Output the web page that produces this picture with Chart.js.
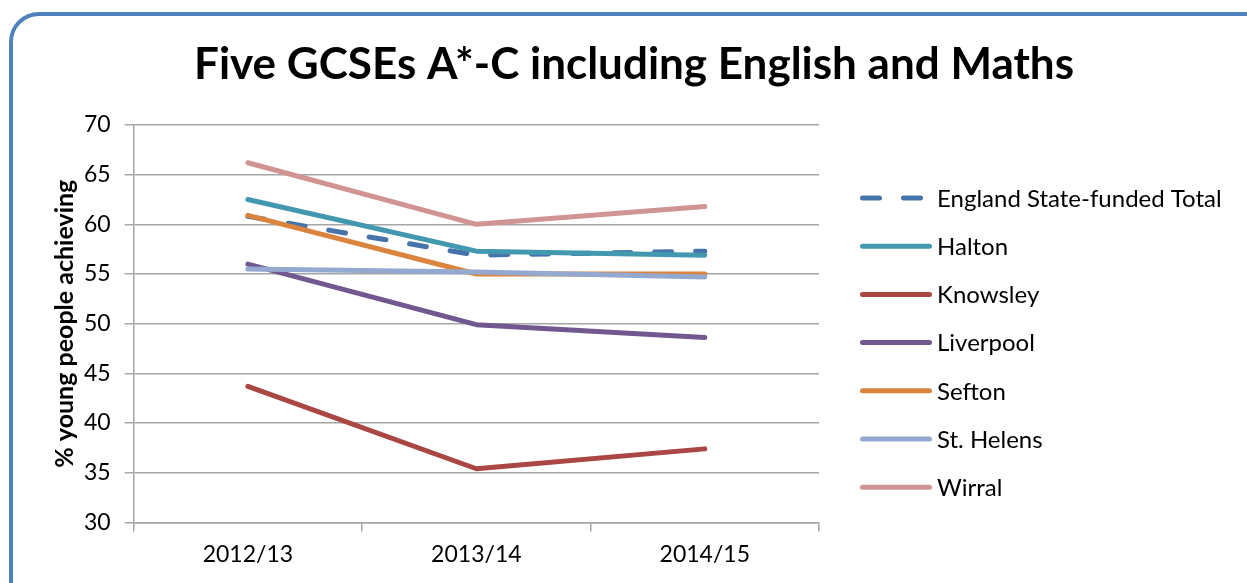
<!DOCTYPE html>
<html>
<head>
<meta charset="utf-8">
<script src="https://cdn.jsdelivr.net/npm/chart.js@4"></script>
<style>
    html, body { margin: 0; padding: 0; background: #fff; overflow: hidden; }
    #wrap { position: relative; width: 1247px; height: 583px; }
    #frame {
        position: absolute; left: 9px; top: 12px; width: 1260px; height: 600px;
        border: 4px solid #4f81bd; border-radius: 30px; pointer-events: none;
    }
    canvas { position: absolute; left: 0; top: 0; }
</style>
</head>
<body>
<div id="wrap">
    <canvas id="chart" width="1247" height="583"></canvas>
    <div id="frame"></div>
</div>
<script>
// Categories (school years)
const years = ['2012/13', '2013/14', '2014/15'];

// % young people achieving five GCSEs A*-C incl. English and Maths
const england = [60.8, 56.9, 57.3];
const halton = [62.5, 57.3, 56.9];
const knowsley = [43.7, 35.4, 37.4];
const liverpool = [56.0, 49.9, 48.6];
const sefton = [60.9, 55.0, 55.0];
const stHelens = [55.5, 55.2, 54.7];
const wirral = [66.2, 60.0, 61.8];

const yTicks = [30, 35, 40, 45, 50, 55, 60, 65, 70];

const chartTitle = 'Five GCSEs A*-C including English and Maths';

const FONT = 'Lato, "Open Sans", sans-serif';

function series(label, data, color, idx, dash) {
    return {
        label,
        data,
        borderColor: color,
        backgroundColor: color,
        borderWidth: 5,
        borderDash: dash || [],
        borderCapStyle: 'round',
        borderJoinStyle: 'round',
        tension: 0,
        pointRadius: 0,
        fill: false,
        order: 10 - idx // later series drawn on top
    };
}

// Title + legend drawn by hand: the built-in ones get squeezed by the layout
const sideLegend = {
    id: 'sideLegend',
    afterDraw(chart) {
        const { ctx, chartArea } = chart;
        ctx.save();

        // title, centred on the whole frame
        ctx.font = 'bold 44px ' + FONT;
        ctx.textAlign = 'center';
        ctx.textBaseline = 'middle';
        ctx.fillStyle = '#000';
        ctx.fillText(chartTitle, 634, 65);

        const x0 = chartArea.right + 41;
        const lineLen = 72;
        const rowH = 48.2;
        const top = chartArea.top + 73;
        ctx.font = '24px ' + FONT;
        ctx.textAlign = 'left';
        chart.data.datasets.forEach((ds, i) => {
            const y = top + i * rowH;
            ctx.beginPath();
            ctx.strokeStyle = ds.borderColor;
            ctx.lineWidth = ds.borderWidth;
            ctx.lineCap = 'round';
            ctx.setLineDash(ds.borderDash || []);
            ctx.moveTo(x0 + 2.5, y);
            ctx.lineTo(x0 + lineLen - 2.5, y);
            ctx.stroke();
            ctx.setLineDash([]);
            ctx.fillText(ds.label, x0 + lineLen + 5, y + 1);
        });
        ctx.restore();
    }
};

const config = {
    type: 'line',
    data: {
        labels: years,
        datasets: [
            series('England State-funded Total', england, '#4673ac', 0, [17, 24]),
            series('Halton', halton, '#4198af', 1),
            series('Knowsley', knowsley, '#aa4643', 2),
            series('Liverpool', liverpool, '#71588f', 3),
            series('Sefton', sefton, '#db843d', 4),
            series('St. Helens', stHelens, '#93a9cf', 5),
            series('Wirral', wirral, '#d09493', 6)
        ]
    },
    options: {
        responsive: false,
        animation: false,
        layout: {
            padding: { left: 50, right: 428, top: 125, bottom: 6 }
        },
        plugins: {
            title: { display: false },
            legend: { display: false },
            tooltip: { enabled: false }
        },
        scales: {
            x: {
                offset: true,
                grid: {
                    offset: true,
                    drawOnChartArea: false,
                    color: '#a6a6a6',
                    tickLength: 9,
                    lineWidth: 1.5
                },
                border: { color: '#a6a6a6', width: 1.5 },
                ticks: {
                    color: '#000',
                    font: { family: FONT, size: 23 },
                    padding: 9,
                    maxRotation: 0
                }
            },
            y: {
                min: 30,
                max: 70,
                afterBuildTicks: (axis) => {
                    axis.ticks = yTicks.map(v => ({ value: v }));
                },
                grid: {
                    color: '#a6a6a6',
                    tickLength: 9,
                    lineWidth: 1.5
                },
                border: { color: '#a6a6a6', width: 1.5 },
                ticks: {
                    color: '#000',
                    font: { family: FONT, size: 23 },
                    padding: 14
                },
                title: {
                    display: true,
                    text: '% young people achieving',
                    color: '#000',
                    font: { family: FONT, size: 25, weight: 'bold' },
                    padding: { top: 0, bottom: -10 }
                }
            }
        }
    },
    plugins: [sideLegend]
};

new Chart(document.getElementById('chart'), config);
</script>
</body>
</html>
